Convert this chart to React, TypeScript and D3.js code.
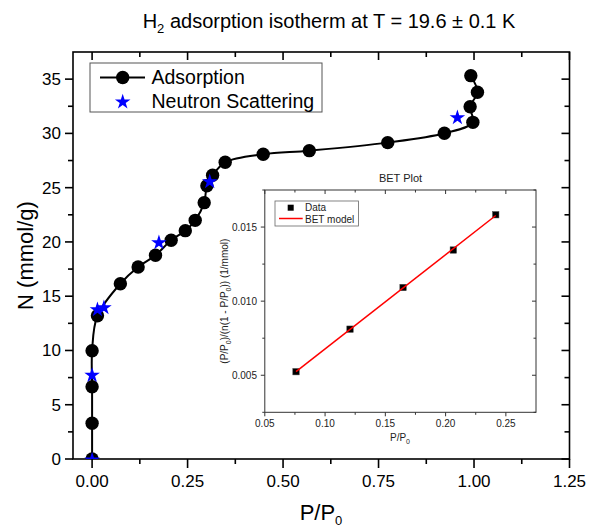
import React from "react";
import * as d3 from "d3";

// ---- Data ----
const adsP = [0, 0, 0, 0, 0.014, 0.074, 0.1205, 0.166, 0.207, 0.244, 0.27, 0.2935, 0.3006, 0.3155, 0.3485, 0.448, 0.5687, 0.774, 0.9224, 0.997, 0.9898, 1.009, 0.9916];
const adsN = [0, 3.29, 6.66, 9.98, 13.2, 16.15, 17.69, 18.77, 20.15, 21.04, 21.99, 23.62, 25.18, 26.14, 27.34, 28.08, 28.41, 29.15, 30.01, 31.02, 32.46, 33.79, 35.32];
const neutP = [0, 0, 0.014, 0.031, 0.175, 0.308, 0.9565];
const neutN = [0, 7.8, 13.85, 14.03, 20.02, 25.64, 31.54];
const betP = [0.0759, 0.1207, 0.1647, 0.2064, 0.2416];
const betY = [0.00524, 0.00811, 0.01092, 0.01345, 0.01583];

const xTickVals = [0, 0.25, 0.5, 0.75, 1.0, 1.25];
const yTickVals = [0, 5, 10, 15, 20, 25, 30, 35];
const ixTickVals = [0.05, 0.1, 0.15, 0.2, 0.25];
const iyTickVals = [0.005, 0.01, 0.015];

const FONT = "'Liberation Sans', Arial, Helvetica, sans-serif";

export default function App() {
  const L = 73, R = 569.5, T = 52, B = 459;
  const x = d3.scaleLinear().domain([-0.05, 1.25]).range([L, R]);
  const y = d3.scaleLinear().domain([0, 37.5]).range([B, T]);

  const iL = 264.8, iR = 536, iT = 190, iB = 412.3;
  const ix = d3.scaleLinear().domain([0.05, 0.275]).range([iL, iR]);
  const iy = d3.scaleLinear().domain([0.0025, 0.0175]).range([iB, iT]);

  const ads = adsP.map((p, i) => [p, adsN[i]] as [number, number]);
  const neut = neutP.map((p, i) => [p, neutN[i]] as [number, number]);
  const line = d3
    .line<[number, number]>()
    .x((d) => x(d[0]))
    .y((d) => y(d[1]))
    .curve(d3.curveCatmullRom.alpha(0.5));

  const starPath = d3.symbol().type(d3.symbolStar).size(75)() as string;

  // linear fit for BET model
  const mx = d3.mean(betP)!, my = d3.mean(betY)!;
  let sxy = 0, sxx = 0;
  betP.forEach((p, i) => {
    sxy += (p - mx) * (betY[i] - my);
    sxx += (p - mx) * (p - mx);
  });
  const slope = sxy / sxx, icpt = my - slope * mx;
  const fitX = [betP[0], betP[betP.length - 1]];

  const xMinor = d3.range(0.125, 1.25, 0.25);
  const yMinor = d3.range(2.5, 37.5, 5);
  const ixMinor = d3.range(0.075, 0.275, 0.05);
  const iyMinor = [0.0025, 0.0075, 0.0125, 0.0175];

  const sw = 1.6;

  return (
    <svg
      width={590}
      height={527}
      style={{ position: "absolute", left: 0, top: 0, background: "#fff" }}
      fontFamily={FONT}
    >
      <defs>
        <clipPath id="mainclip">
          <rect x={L} y={T} width={R - L} height={B - T} />
        </clipPath>
      </defs>

      {/* title */}
      <text x={329} y={28} fontSize={20} textAnchor="middle" fill="#000">
        H<tspan fontSize={13} dy={5}>2</tspan>
        <tspan dy={-5}> adsorption isotherm at T = 19.6 ± 0.1 K</tspan>
      </text>

      {/* main frame */}
      <rect x={L} y={T} width={R - L} height={B - T} fill="none" stroke="#000" strokeWidth={sw} />

      {/* bottom & top ticks */}
      {xTickVals.map((v) => (
        <g key={"xt" + v}>
          <line x1={x(v)} x2={x(v)} y1={B} y2={B + 9} stroke="#000" strokeWidth={sw} />
          <line x1={x(v)} x2={x(v)} y1={T} y2={T + 8} stroke="#000" strokeWidth={sw} />
          <text x={x(v)} y={487} fontSize={17} textAnchor="middle">
            {d3.format(".2f")(v)}
          </text>
        </g>
      ))}
      {xMinor.map((v) => (
        <g key={"xm" + v}>
          <line x1={x(v)} x2={x(v)} y1={B} y2={B + 5} stroke="#000" strokeWidth={sw} />
          <line x1={x(v)} x2={x(v)} y1={T} y2={T + 5} stroke="#000" strokeWidth={sw} />
        </g>
      ))}
      {/* left & right ticks */}
      {yTickVals.map((v) => (
        <g key={"yt" + v}>
          <line x1={L - 8} x2={L} y1={y(v)} y2={y(v)} stroke="#000" strokeWidth={sw} />
          <line x1={R - 8} x2={R} y1={y(v)} y2={y(v)} stroke="#000" strokeWidth={sw} />
          <text x={61} y={y(v)} dy="0.35em" fontSize={17} textAnchor="end">
            {v}
          </text>
        </g>
      ))}
      {yMinor.map((v) => (
        <g key={"ym" + v}>
          <line x1={L - 5} x2={L} y1={y(v)} y2={y(v)} stroke="#000" strokeWidth={sw} />
          <line x1={R - 5} x2={R} y1={y(v)} y2={y(v)} stroke="#000" strokeWidth={sw} />
        </g>
      ))}

      {/* axis labels */}
      <text x={321} y={520} fontSize={22} textAnchor="middle">
        P/P<tspan fontSize={13} dy={5}>0</tspan>
      </text>
      <text transform={`translate(33,${(T + B) / 2}) rotate(-90)`} fontSize={22} textAnchor="middle">
        N (mmol/g)
      </text>

      {/* data */}
      <g clipPath="url(#mainclip)">
        <path d={line(ads) as string} fill="none" stroke="#000" strokeWidth={2} />
        {ads.map((d, i) => (
          <circle key={"c" + i} cx={x(d[0])} cy={y(d[1])} r={6.7} fill="#000" />
        ))}
        {neut.map((d, i) => (
          <path key={"s" + i} d={starPath} transform={`translate(${x(d[0])},${y(d[1]) + 1})`} fill="#0000ff" />
        ))}
      </g>

      {/* legend */}
      <rect x={90} y={63} width={232} height={49} fill="#fff" stroke="#555" strokeWidth={1} />
      <line x1={100} x2={145} y1={77.5} y2={77.5} stroke="#000" strokeWidth={2} />
      <circle cx={122.7} cy={77.5} r={6.7} fill="#000" />
      <text x={151.5} y={84} fontSize={19.5}>Adsorption</text>
      <path d={starPath} transform="translate(122.7,102)" fill="#0000ff" />
      <text x={151.5} y={108} fontSize={19.5}>Neutron Scattering</text>

      {/* ---------- inset ---------- */}
      <rect x={iL} y={iT} width={iR - iL} height={iB - iT} fill="#fff" stroke="#333" strokeWidth={1} />
      <text x={400.5} y={182} fontSize={11} textAnchor="middle" fill="#222">BET Plot</text>

      {ixTickVals.map((v) => (
        <g key={"ixt" + v}>
          <line x1={ix(v)} x2={ix(v)} y1={iB} y2={iB + 4} stroke="#333" />
          <line x1={ix(v)} x2={ix(v)} y1={iT} y2={iT + 4} stroke="#333" />
          <text x={ix(v)} y={427} fontSize={10} textAnchor="middle" fill="#222">
            {d3.format(".2f")(v)}
          </text>
        </g>
      ))}
      {ixMinor.map((v) => (
        <g key={"ixm" + v}>
          <line x1={ix(v)} x2={ix(v)} y1={iB} y2={iB + 2.5} stroke="#333" />
          <line x1={ix(v)} x2={ix(v)} y1={iT} y2={iT + 2.5} stroke="#333" />
        </g>
      ))}
      {iyTickVals.map((v) => (
        <g key={"iyt" + v}>
          <line x1={iL - 4} x2={iL} y1={iy(v)} y2={iy(v)} stroke="#333" />
          <line x1={iR - 4} x2={iR} y1={iy(v)} y2={iy(v)} stroke="#333" />
          <text x={257} y={iy(v)} dy="0.35em" fontSize={10} textAnchor="end" fill="#222">
            {d3.format(".3f")(v)}
          </text>
        </g>
      ))}
      {iyMinor.map((v) => (
        <g key={"iym" + v}>
          <line x1={iL - 2.5} x2={iL} y1={iy(v)} y2={iy(v)} stroke="#333" />
          <line x1={iR - 2.5} x2={iR} y1={iy(v)} y2={iy(v)} stroke="#333" />
        </g>
      ))}

      <text x={400} y={441} fontSize={10} textAnchor="middle" fill="#222">
        P/P<tspan fontSize={7} dy={3}>0</tspan>
      </text>
      <text transform={`translate(228,${(iT + iB) / 2}) rotate(-90)`} fontSize={10} textAnchor="middle" fill="#222">
        (P/P<tspan fontSize={7} dy={3}>0</tspan>
        <tspan dy={-3}>)/(n(1 - P/P</tspan>
        <tspan fontSize={7} dy={3}>0</tspan>
        <tspan dy={-3}>)) (1/mmol)</tspan>
      </text>

      {betP.map((p, i) => (
        <rect key={"b" + i} x={ix(p) - 3.2} y={iy(betY[i]) - 3.2} width={6.4} height={6.4} fill="#000" stroke="#444" strokeWidth={0.5} />
      ))}
      <line
        x1={ix(fitX[0])}
        y1={iy(slope * fitX[0] + icpt)}
        x2={ix(fitX[1])}
        y2={iy(slope * fitX[1] + icpt)}
        stroke="#ff0000"
        strokeWidth={1.5}
      />

      {/* inset legend */}
      <rect x={275} y={201} width={83.5} height={25} fill="#fff" stroke="#666" strokeWidth={0.8} />
      <rect x={287.7} y={204.7} width={6} height={6} fill="#000" />
      <text x={305} y={211} fontSize={10} fill="#222">Data</text>
      <line x1={279} x2={302.7} y1={218.5} y2={218.5} stroke="#ff0000" strokeWidth={1.5} />
      <text x={305} y={222.5} fontSize={10} fill="#222">BET model</text>
    </svg>
  );
}
